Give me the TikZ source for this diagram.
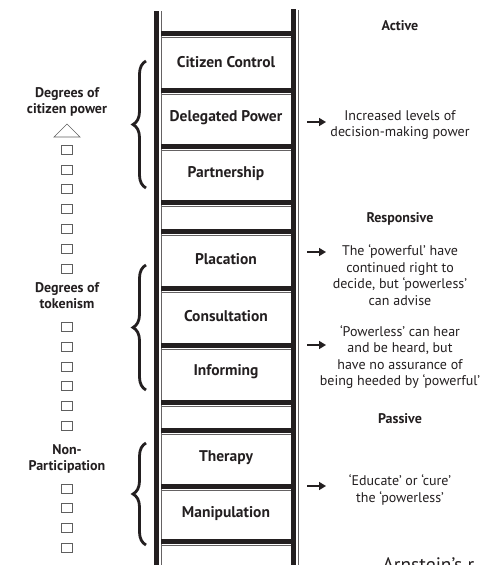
\documentclass[tikz,border=0pt]{standalone}
\usepackage{fontspec}
\setmainfont{PT Sans}
\usetikzlibrary{arrows.meta,decorations.pathreplacing}
\definecolor{ink}{RGB}{35,31,32}
\definecolor{boxgray}{RGB}{95,95,95}
\tikzset{
  ladder/.style={x=1pt,y=-1pt,text=ink},
  rung/.style={font=\bfseries\fontsize{15.5}{17}\selectfont},
  grouplabel/.style={font=\bfseries\fontsize{14}{16}\selectfont,align=center},
  note/.style={font=\fontsize{14}{16.5}\selectfont,align=center},
  pointer/.style={-{Triangle[length=7pt,width=8pt]},line width=1.6pt,draw=ink},
  cell/.style={draw=boxgray,line width=0.8pt,minimum width=11pt,minimum height=9.5pt,inner sep=0pt},
  bracket/.style={decorate,decoration={brace,amplitude=13pt},line width=2.8pt,draw=ink},
}

\begin{document}
\begin{tikzpicture}[ladder]
    \useasboundingbox (0,0) rectangle (481,565);
    % rails
    \fill[ink] (154,11) rectangle (159,565);
    \draw[ink!70,line width=0.8pt] (161,11) -- (161,565);
    \fill[ink] (291,9) rectangle (296,565);
    \draw[ink!70,line width=0.8pt] (298,10) -- (298,565);
    % rungs
    \foreach \y in {31,88,144,200,229,286,343,400,428,484,539} {
      \fill[ink] (161,\y) rectangle (291,{\y+4.5});
      \draw[ink!70,line width=0.8pt] (161,{\y+6.5}) -- (291,{\y+6.5});
    }
    \node[rung] (cc) at (226,62) {Citizen Control};
    \node[rung] (dp) at (226,118) {Delegated Power};
    \node[rung] (pa) at (226,174) {Partnership};
    \node[rung] (pl) at (226,259) {Placation};
    \node[rung] (co) at (226,316) {Consultation};
    \node[rung] (in) at (226,372) {Informing};
    \node[rung] (th) at (226,458) {Therapy};
    \node[rung] (ma) at (226,514) {Manipulation};
    % left column
    \node[grouplabel] (power) at (67,102) {Degrees of\\citizen power};
    \node[grouplabel] (token) at (67,296) {Degrees of\\tokenism};
    \node[grouplabel] (nonp) at (67,459) {Non-\\Participation};
    \draw[boxgray,line width=0.7pt] (67,124) -- (80,137) -- (54,137) -- cycle;
    \foreach \y [count=\i] in {150,170,189,209,229,249,269,327,347,367,386,406,426,489,508,528,548}
      \node[cell] (sq\i) at (67,\y) {};
    \draw[bracket] (146,188) -- (146,61);
    \draw[bracket] (146,390) -- (146,265);
    \draw[bracket] (146,545) -- (146,443);
    % right column
    \node[grouplabel] (active) at (400,26) {Active};
    \node[note] (dpnote) at (400,125) {Increased levels of\\decision-making power};
    \node[grouplabel] (resp) at (400,219) {Responsive};
    \node[note] (plnote) at (400,275) {The ‘powerful’ have\\continued right to\\decide, but ‘powerless’\\can advise};
    \node[note] (innote) at (400,357) {‘Powerless’ can hear\\and be heard, but\\have no assurance of\\being heeded by ‘powerful’};
    \node[grouplabel] (pass) at (400,419) {Passive};
    \node[note] (thnote) at (400,490) {‘Educate’ or ‘cure’\\the ‘powerless’};
    \foreach \y [count=\i] in {122,252,345,486} {
      \coordinate (p\i) at (307,\y);
      \coordinate (q\i) at (326,\y);
      \draw[pointer] (p\i) -- (q\i);
    }
    \node[anchor=base west,font=\fontsize{19.5}{22}\selectfont] (title) at (379,571) {Arnstein’s r};
\end{tikzpicture}
\end{document}
